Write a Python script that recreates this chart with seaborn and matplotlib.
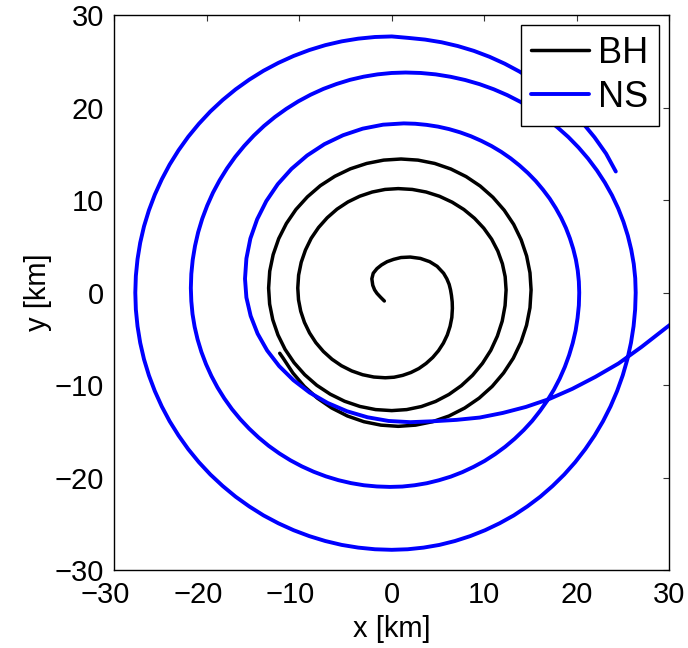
import matplotlib
matplotlib.use("Agg")
import matplotlib.pyplot as plt
import matplotlib.transforms as mtransforms
import seaborn as sns
import pandas as pd

# Black hole trajectory [km], from the outer end of the track inward
bh_x = [-12.1, -11.73, -10.68, -9.45, -8.04, -6.48, -4.79, -3.01, -1.17, 0.7,
        2.57, 4.41, 6.19, 7.88, 9.44, 10.85, 12.08, 13.13, 13.96, 14.56, 14.93, 15.05,
        14.93, 14.57, 13.98, 13.17, 12.15, 10.93, 9.55, 8.03, 6.38, 4.64, 2.83, 1.0,
        -0.87, -2.70, -4.47, -6.15, -7.71, -9.11, -10.35, -11.38, -12.21, -12.81, -13.18, -13.3,
        -13.19, -12.85, -12.29, -11.52, -10.55, -9.40, -8.10, -6.65, -5.09, -3.44, -1.74, 0.0,
        1.61, 3.20, 4.73, 6.18, 7.52, 8.73, 9.80, 10.70, 11.41, 11.93, 12.24, 12.35,
        12.25, 11.95, 11.46, 10.79, 9.94, 8.94, 7.79, 6.53, 5.16, 3.72, 2.22, 0.7,
        -0.72, -2.11, -3.45, -4.73, -5.91, -6.97, -7.91, -8.70, -9.32, -9.78, -10.06, -10.15,
        -10.07, -9.83, -9.43, -8.88, -8.20, -7.38, -6.45, -5.43, -4.32, -3.15, -1.93, -0.7,
        0.25, 1.18, 2.07, 2.93, 3.71, 4.43, 5.05, 5.58, 6.0, 6.30, 6.49, 6.55,
        6.53, 6.45, 6.35, 6.2, 5.95, 5.6, 4.9, 4.1, 3.1, 2.0, 1.0, 0.2, -0.5,
        -1.1, -1.6, -2.0, -2.15, -2.05, -1.85, -1.6, -1.2, -0.8]
bh_y = [-6.55, -7.08, -8.68, -10.13, -11.40, -12.47, -13.33, -13.95, -14.32, -14.45,
        -14.32, -13.95, -13.33, -12.47, -11.40, -10.13, -8.68, -7.08, -5.34, -3.52, -1.63, 0.3,
        2.15, 3.96, 5.71, 7.38, 8.91, 10.31, 11.53, 12.55, 13.37, 13.97, 14.33, 14.45,
        14.33, 13.97, 13.39, 12.58, 11.57, 10.36, 8.99, 7.48, 5.84, 4.11, 2.32, 0.5,
        -1.23, -2.93, -4.57, -6.13, -7.57, -8.87, -10.01, -10.97, -11.74, -12.30, -12.64, -12.75,
        -12.64, -12.31, -11.76, -11.0, -10.05, -8.93, -7.64, -6.23, -4.69, -3.08, -1.40, 0.3,
        1.73, 3.13, 4.49, 5.78, 6.97, 8.04, 8.99, 9.78, 10.42, 10.88, 11.16, 11.25,
        11.16, 10.88, 10.43, 9.81, 9.03, 8.10, 7.04, 5.88, 4.61, 3.28, 1.90, 0.5,
        -0.77, -2.01, -3.21, -4.35, -5.40, -6.36, -7.20, -7.90, -8.46, -8.87, -9.12, -9.2,
        -9.14, -8.94, -8.63, -8.20, -7.65, -7.0, -6.27, -5.45, -4.57, -3.64, -2.68, -1.7,
        -1.0, -0.3, 0.3, 0.9, 1.5, 2.1, 2.85, 3.35, 3.7, 3.85, 3.8, 3.6, 3.35,
        3.0, 2.6, 2.1, 1.5, 0.8, 0.3, -0.07, -0.5, -0.9]

# Neutron star trajectory [km], from the outer end inward, then the tidal tail
ns_x = [24.2, 23.15, 21.90, 20.75, 19.52, 18.20, 16.80, 15.33, 13.80, 12.21, 10.56, 8.87,
        7.14, 5.38, 3.60, 1.81, 0.0,
        -1.81, -3.62, -5.40, -7.17, -8.90, -10.60, -12.25, -13.85, -15.39, -16.86, -18.26, -19.59,
        -20.83, -21.98, -23.03, -23.99, -24.84, -25.59, -26.23, -26.76, -27.17, -27.46, -27.64, -27.7,
        -27.64, -27.46, -27.17, -26.76, -26.23, -25.59, -24.84, -23.99, -23.03, -21.98, -20.83, -19.59,
        -18.26, -16.86, -15.39, -13.85, -12.25, -10.60, -8.90, -7.17, -5.40, -3.62, -1.81, 0.0,
        1.72, 3.44, 5.14, 6.82, 8.47, 10.08, 11.65, 13.18, 14.64, 16.04, 17.37, 18.63,
        19.81, 20.90, 21.91, 22.82, 23.63, 24.34, 24.95, 25.45, 25.84, 26.12, 26.29, 26.35,
        26.30, 26.14, 25.87, 25.50, 25.03, 24.46, 23.79, 23.02, 22.16, 21.21, 20.18, 19.07,
        17.88, 16.63, 15.31, 13.93, 12.49, 11.01, 9.49, 7.93, 6.35, 4.74, 3.13, 1.5,
        -0.02, -1.53, -3.03, -4.50, -5.96, -7.38, -8.76, -10.10, -11.39, -12.62, -13.80, -14.90,
        -15.94, -16.91, -17.79, -18.59, -19.31, -19.93, -20.47, -20.91, -21.25, -21.50, -21.65, -21.7,
        -21.65, -21.52, -21.29, -20.97, -20.56, -20.06, -19.48, -18.82, -18.08, -17.26, -16.36, -15.40,
        -14.38, -13.29, -12.14, -10.95, -9.71, -8.43, -7.11, -5.76, -4.39, -3.01, -1.61, -0.2,
        1.14, 2.47, 3.79, 5.09, 6.37, 7.63, 8.84, 10.03, 11.16, 12.25, 13.28, 14.26,
        15.18, 16.02, 16.80, 17.51, 18.14, 18.69, 19.16, 19.55, 19.86, 20.07, 20.21, 20.25,
        20.21, 20.09, 19.89, 19.60, 19.24, 18.81, 18.30, 17.71, 17.06, 16.33, 15.55, 14.70,
        13.79, 12.84, 11.83, 10.78, 9.68, 8.55, 7.39, 6.20, 5.00, 3.77, 2.54, 1.3,
        -0.94, -3.14, -5.26, -7.28, -9.14, -10.83, -12.31, -13.55, -14.54, -15.27, -15.70, -15.85,
        -15.70, -15.24, -14.49, -13.46, -12.16, -10.62, -8.87, -6.93, -4.83, -2.62, -0.33, 2.0,
        4.5, 7.0, 9.5, 12.0, 14.5, 17.0, 19.5, 22.0, 24.5, 27.0, 29.5, 31.0]
ns_y = [13.1, 15.03, 16.80, 18.20, 19.52, 20.75, 21.90, 22.95, 23.90, 24.75, 25.50, 26.14,
        26.66, 27.07, 27.36, 27.54, 27.7,
        27.64, 27.46, 27.17, 26.76, 26.23, 25.59, 24.84, 23.99, 23.03, 21.98, 20.83, 19.59,
        18.26, 16.86, 15.39, 13.85, 12.25, 10.60, 8.90, 7.17, 5.40, 3.62, 1.81, 0.0,
        -1.82, -3.63, -5.42, -7.20, -8.94, -10.64, -12.30, -13.90, -15.44, -16.92, -18.33, -19.66,
        -20.90, -22.06, -23.11, -24.08, -24.93, -25.68, -26.32, -26.85, -27.27, -27.56, -27.74, -27.8,
        -27.74, -27.56, -27.27, -26.85, -26.32, -25.68, -24.93, -24.08, -23.11, -22.06, -20.90, -19.66,
        -18.33, -16.92, -15.44, -13.90, -12.30, -10.64, -8.94, -7.20, -5.42, -3.63, -1.82, 0.0,
        1.56, 3.11, 4.64, 6.16, 7.65, 9.11, 10.53, 11.90, 13.22, 14.49, 15.69, 16.83,
        17.89, 18.88, 19.79, 20.61, 21.35, 21.99, 22.54, 22.99, 23.34, 23.60, 23.75, 23.8,
        23.75, 23.60, 23.35, 23.01, 22.56, 22.03, 21.40, 20.68, 19.87, 18.99, 18.02, 16.98,
        15.86, 14.68, 13.44, 12.15, 10.81, 9.42, 7.99, 6.53, 5.05, 3.54, 2.02, 0.5,
        -0.91, -2.31, -3.69, -5.06, -6.41, -7.73, -9.01, -10.25, -11.44, -12.59, -13.68, -14.70,
        -15.66, -16.56, -17.38, -18.12, -18.78, -19.36, -19.86, -20.27, -20.59, -20.82, -20.95, -21.0,
        -20.96, -20.82, -20.60, -20.28, -19.89, -19.40, -18.83, -18.19, -17.46, -16.66, -15.79, -14.85,
        -13.85, -12.78, -11.67, -10.50, -9.29, -8.04, -6.75, -5.44, -4.10, -2.74, -1.37, 0.0,
        1.20, 2.39, 3.57, 4.74, 5.88, 7.00, 8.09, 9.15, 10.17, 11.14, 12.07, 12.94,
        13.76, 14.52, 15.22, 15.85, 16.41, 16.91, 17.33, 17.68, 17.95, 18.14, 18.26, 18.3,
        18.16, 17.73, 17.02, 16.05, 14.83, 13.38, 11.73, 9.90, 7.93, 5.85, 3.69, 1.5,
        -0.52, -2.51, -4.43, -6.25, -7.94, -9.46, -10.80, -11.92, -12.82, -13.47, -13.87, -14.0,
        -13.9, -13.75, -13.5, -13.0, -12.35, -11.5, -10.4, -9.1, -7.65, -5.85, -3.9, -2.75]

labels = ["BH", "NS"]
colors = {"BH": "black", "NS": "blue"}
widths = {"BH": 2.5, "NS": 2.8}
ticks = [-30, -20, -10, 0, 10, 20, 30]
tick_text = ["\u221230", "\u221220", "\u221210", "0", "10", "20", "30"]

sns.set_theme(style="white")
plt.rcParams["font.family"] = ["Liberation Sans", "DejaVu Sans"]
for key in ["text.color", "axes.labelcolor", "xtick.color", "ytick.color", "axes.edgecolor"]:
    plt.rcParams[key] = "black"

df = pd.concat([
    pd.DataFrame({"x": bh_x, "y": bh_y, "body": "BH"}),
    pd.DataFrame({"x": ns_x, "y": ns_y, "body": "NS"}),
], ignore_index=True)

fig = plt.figure(figsize=(6.88, 6.48), dpi=100)
ax = fig.add_axes([0.1657, 0.1201, 0.8074, 0.8565])

for name in labels:
    sub = df[df["body"] == name]
    sns.lineplot(data=sub, x="x", y="y", sort=False, estimator=None,
                 color=colors[name], linewidth=widths[name], label=name, ax=ax)

ax.set_xlim(-30, 30)
ax.set_ylim(-30, 30)

for side in ["top", "right", "bottom", "left"]:
    ax.spines[side].set_visible(True)
    ax.spines[side].set_color("black")
    ax.spines[side].set_linewidth(1.0)
ax.tick_params(axis="both", which="major", direction="in", length=4,
               width=0.8, color="#333333", labelsize=21,
               top=True, right=True)
ax.tick_params(axis="x", pad=8)
ax.tick_params(axis="y", pad=7)

ax.set_xticks(ticks)
ax.set_yticks(ticks)
ax.set_xticklabels(tick_text)
ax.set_yticklabels(tick_text)
# centre the digits of negative x labels on their ticks, minus sign hanging left
shift = mtransforms.ScaledTranslation(-6.2 / 72, 0, fig.dpi_scale_trans)
for lab, val in zip(ax.get_xticklabels(), ticks):
    if val < 0:
        lab.set_transform(lab.get_transform() + shift)

ax.set_xlabel("x [km]", fontsize=21, labelpad=4)
ax.set_ylabel("y [km]", fontsize=21, labelpad=2)

leg = ax.legend(loc="upper right", fontsize=26, frameon=True, fancybox=False,
                edgecolor="black", framealpha=1.0, handlelength=1.6,
                handletextpad=0.25, borderpad=0.3, labelspacing=0.25,
                borderaxespad=0.28)
leg.get_frame().set_linewidth(1.0)

fig.savefig("out.png", dpi=100)
